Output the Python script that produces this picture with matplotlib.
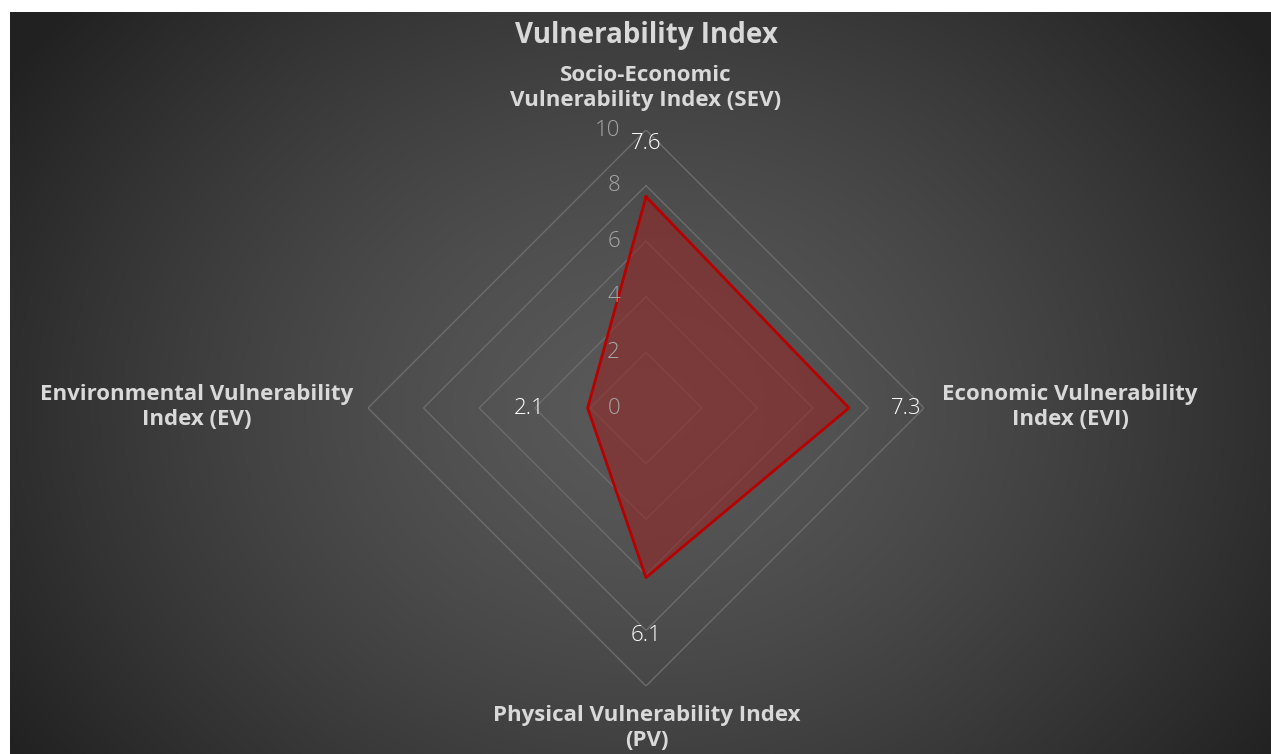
import numpy as np
import matplotlib
matplotlib.use("Agg")
import matplotlib.pyplot as plt
from matplotlib.transforms import ScaledTranslation

categories = ["Socio-Economic\nVulnerability Index (SEV)",
              "Economic Vulnerability\nIndex (EVI)",
              "Physical Vulnerability Index\n(PV)",
              "Environmental Vulnerability\nIndex (EV)"]
values = [7.6, 7.3, 6.1, 2.1]
rticks = [0, 2, 4, 6, 8, 10]
title = "Vulnerability Index"

W, H = 1271, 754
fig = plt.figure(figsize=(W / 100, H / 100), dpi=100)
fig.patch.set_facecolor("white")

# dark radial background of the chart area
bg = fig.add_axes([10 / W, 0, (W - 10) / W, (H - 12) / H])
bg.set_axis_off()
yy, xx = np.mgrid[0:742, 0:1261]
cx, cy = 636, 396
d = np.sqrt(((xx - cx) / 760.0) ** 2 + ((yy - cy) / 620.0) ** 2)
d = np.clip(d, 0, 1)
shade = 0.35 - 0.22 * d ** 1.4
bg.imshow(np.dstack([shade] * 3), aspect="auto", interpolation="bilinear")

cxp, cyp, R = 646, 408, 278
ax = fig.add_axes([(cxp - R) / W, (H - cyp - R) / H, 2 * R / W, 2 * R / H], projection="polar")
ax.set_facecolor("none")
ax.set_theta_offset(np.pi / 2)
ax.set_theta_direction(-1)
ax.set_ylim(0, 10)
ax.grid(False)
ax.spines["polar"].set_visible(False)
ax.set_xticks([])
ax.set_yticks([])

theta = np.linspace(0, 2 * np.pi, len(values), endpoint=False)
tc = np.append(theta, theta[0])

for r in rticks[1:]:
    ax.plot(tc, [r] * len(tc), color="#6c6c6c", lw=1, zorder=1)

vc = values + values[:1]
ax.fill(tc, vc, color=(147 / 255, 40 / 255, 40 / 255), alpha=0.6, zorder=2, lw=0)
ax.plot(tc, vc, color="#b80000", lw=2, zorder=3)

fam = ["Open Sans", "DejaVu Sans"]
tick_tr = ax.transData + ScaledTranslation(-26 / 100, 0, fig.dpi_scale_trans)
for r in rticks:
    ax.text(0, r, str(r), transform=tick_tr, color="#a6a6a6", fontsize=16,
            ha="right", va="center", family=fam, fontweight="light")

lab_r = [9.5, 9.35, 8.2, 4.2]
for th, v, lr in zip(theta, values, lab_r):
    ax.text(th, lr, f"{v:.1f}", color="white", fontsize=16,
            ha="center", va="center", family=fam, fontweight="light")

lab_kw = dict(color="#d9d9d9", fontsize=16, fontweight="bold", ha="center",
              va="center", family=fam, linespacing=1.2)
pos = [(646, 88), (1070, 407), (647, 728), (197, 407)]
for c, (px, py) in zip(categories, pos):
    fig.text(px / W, 1 - py / H, c, **lab_kw)

fig.text(646 / W, 1 - 36 / H, title, color="#d9d9d9", fontsize=20, fontweight="bold",
         ha="center", va="center", family=fam)

fig.savefig("out.png", dpi=100, facecolor=fig.get_facecolor())
